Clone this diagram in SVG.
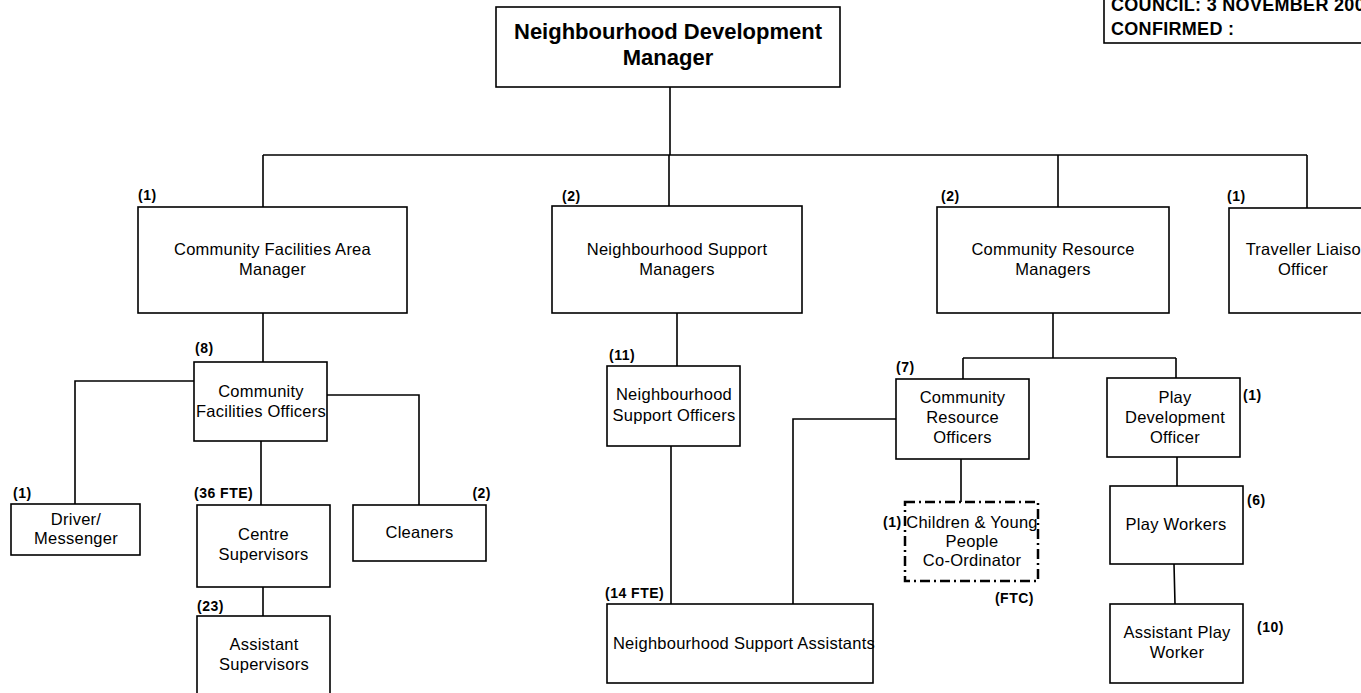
<svg xmlns="http://www.w3.org/2000/svg" width="1361" height="693" viewBox="0 0 1361 693">
<style>
.box{fill:#fff;stroke:#000;stroke-width:1.6}
.dash{fill:#fff;stroke:#000;stroke-width:2.5;stroke-dasharray:10 4 2 4}
.t{font-family:"Liberation Sans",Arial,sans-serif;font-size:16.5px;fill:#000;text-anchor:middle;letter-spacing:0.25px}
.title{font-family:"Liberation Sans",Arial,sans-serif;font-size:22px;font-weight:bold;fill:#000;text-anchor:middle}
.lab{font-family:"Liberation Sans",Arial,sans-serif;font-size:14px;font-weight:bold;fill:#000;letter-spacing:0.5px}
.hdr{font-family:"Liberation Sans",Arial,sans-serif;font-size:18px;font-weight:bold;fill:#000;letter-spacing:0.3px}
.c{fill:none;stroke:#000;stroke-width:1.6}
</style>
<rect width="1361" height="693" fill="#fff"/>
<g id="connectors">
<path class="c" d="M670 87V155M263 155H1307M263 155V207M669 155V206M1058 155V207M1307 155V208"/>
<path class="c" d="M263 313V362M194 381H75V504M327 395H419V505M261 441V505M263 587V616"/>
<path class="c" d="M677 313V366M671 446V604M896 419H793V604"/>
<path class="c" d="M1053 313V358M963 358H1176M963 358V379M1176 358V378M961 459V502M1177 457V486M1174 564L1175 604"/>
</g>
<g id="council">
<rect class="box" x="1104" y="-10" width="300" height="53"/>
<text class="hdr" x="1111" y="11">COUNCIL:  3 NOVEMBER 2005</text>
<text class="hdr" x="1111" y="35">CONFIRMED :</text>
</g>
<g id="ndm">
<rect class="box" x="496" y="7" width="344" height="80"/>
<text class="title" x="668" y="39">Neighbourhood Development</text>
<text class="title" x="668" y="65">Manager</text>
</g>
<g id="cfam">
<rect class="box" x="138" y="207" width="269" height="106"/>
<text class="t" x="272.5" y="255">Community Facilities Area</text>
<text class="t" x="272.5" y="275">Manager</text>
<text class="lab" x="138" y="200">(1)</text>
</g>
<g id="nsm">
<rect class="box" x="552" y="206" width="250" height="107"/>
<text class="t" x="677" y="255">Neighbourhood Support</text>
<text class="t" x="677" y="275">Managers</text>
<text class="lab" x="562" y="201">(2)</text>
</g>
<g id="crm">
<rect class="box" x="937" y="207" width="232" height="106"/>
<text class="t" x="1053" y="255">Community Resource</text>
<text class="t" x="1053" y="275">Managers</text>
<text class="lab" x="941" y="201">(2)</text>
</g>
<g id="tlo">
<rect class="box" x="1229" y="208" width="160" height="105"/>
<text class="t" x="1308" y="255">Traveller Liaison</text>
<text class="t" x="1303" y="275">Officer</text>
<text class="lab" x="1227" y="201">(1)</text>
</g>
<g id="cfo">
<rect class="box" x="194" y="362" width="133" height="79"/>
<text class="t" x="261" y="397">Community</text>
<text class="t" x="261" y="417">Facilities Officers</text>
<text class="lab" x="195" y="353">(8)</text>
</g>
<g id="driver">
<rect class="box" x="11" y="504" width="129" height="51"/>
<text class="t" x="76" y="525">Driver/</text>
<text class="t" x="76" y="544">Messenger</text>
<text class="lab" x="13" y="498">(1)</text>
</g>
<g id="centre">
<rect class="box" x="197" y="505" width="133" height="82"/>
<text class="t" x="263.5" y="540">Centre</text>
<text class="t" x="263.5" y="560">Supervisors</text>
<text class="lab" x="194" y="498">(36 FTE)</text>
</g>
<g id="cleaners">
<rect class="box" x="353" y="505" width="133" height="56"/>
<text class="t" x="419.5" y="538">Cleaners</text>
<text class="lab" x="491" y="498" text-anchor="end">(2)</text>
</g>
<g id="assistsup">
<rect class="box" x="197" y="616" width="133" height="90"/>
<text class="t" x="264" y="650">Assistant</text>
<text class="t" x="264" y="670">Supervisors</text>
<text class="lab" x="197" y="611">(23)</text>
</g>
<g id="nso">
<rect class="box" x="607" y="366" width="133" height="80"/>
<text class="t" x="674" y="400">Neighbourhood</text>
<text class="t" x="674" y="421">Support Officers</text>
<text class="lab" x="609" y="360">(11)</text>
</g>
<g id="nsa">
<rect class="box" x="607" y="604" width="266" height="79"/>
<text class="t" x="744" y="649">Neighbourhood Support Assistants</text>
<text class="lab" x="605" y="598">(14 FTE)</text>
</g>
<g id="cro">
<rect class="box" x="896" y="379" width="133" height="80"/>
<text class="t" x="962.5" y="403">Community</text>
<text class="t" x="962.5" y="423">Resource</text>
<text class="t" x="962.5" y="443">Officers</text>
<text class="lab" x="896" y="372">(7)</text>
</g>
<g id="cyp">
<rect class="dash" x="905" y="502" width="133" height="79"/>
<text class="t" x="972" y="528">Children &amp; Young</text>
<text class="t" x="972" y="547">People</text>
<text class="t" x="972" y="566">Co-Ordinator</text>
<text class="lab" x="883" y="527">(1)</text>
<text class="lab" x="1034" y="603" text-anchor="end">(FTC)</text>
</g>
<g id="pdo">
<rect class="box" x="1107" y="378" width="133" height="79"/>
<text class="t" x="1175" y="403">Play</text>
<text class="t" x="1175" y="423">Development</text>
<text class="t" x="1175" y="443">Officer</text>
<text class="lab" x="1243" y="400">(1)</text>
</g>
<g id="pw">
<rect class="box" x="1110" y="486" width="133" height="78"/>
<text class="t" x="1176" y="530">Play Workers</text>
<text class="lab" x="1247" y="505">(6)</text>
</g>
<g id="apw">
<rect class="box" x="1110" y="604" width="133" height="79"/>
<text class="t" x="1177" y="638">Assistant Play</text>
<text class="t" x="1177" y="658">Worker</text>
<text class="lab" x="1257" y="632">(10)</text>
</g>
</svg>
